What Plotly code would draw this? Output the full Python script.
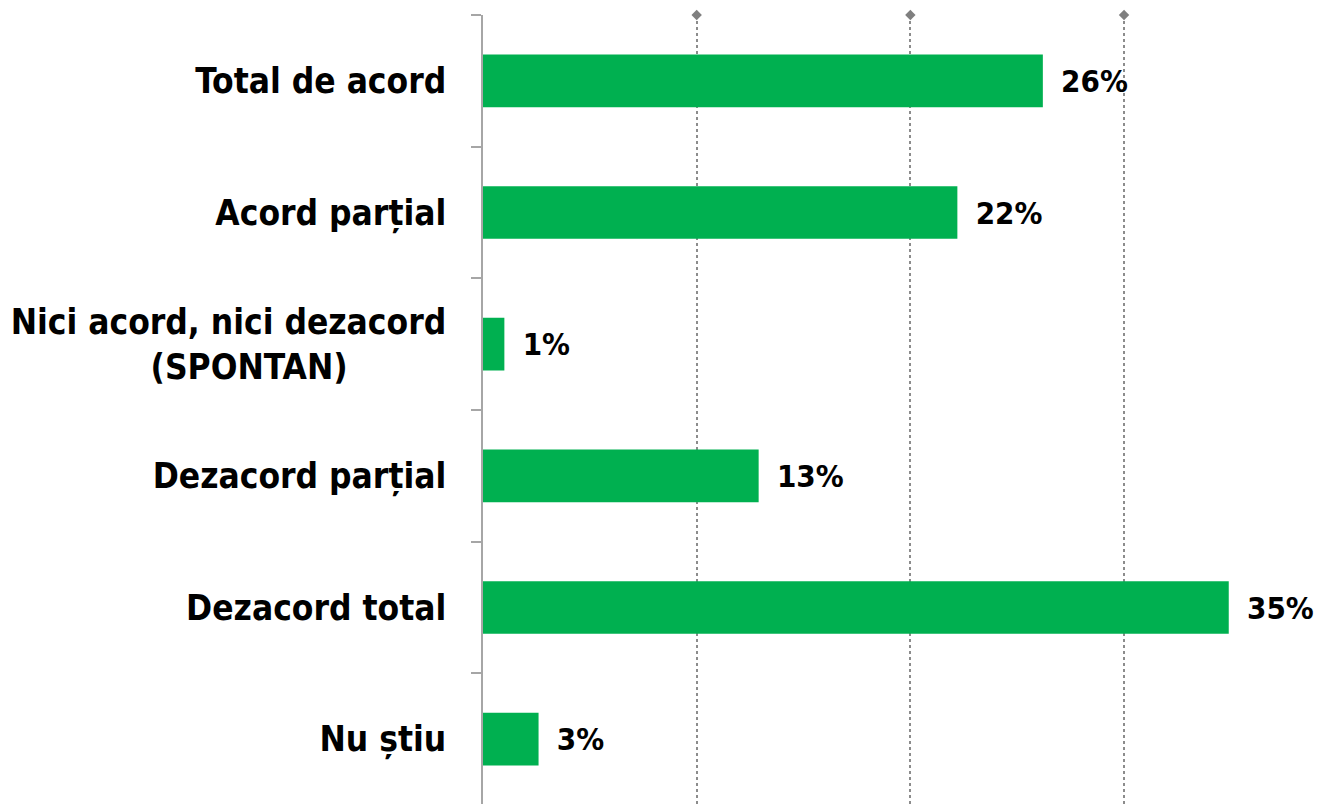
import plotly.graph_objects as go

NB = "\u00a0"
categories = ["Total de acord", "Acord parțial",
              "Nici acord, nici dezacord<br>(SPONTAN)" + NB * 9,
              "Dezacord parțial", "Dezacord total", "Nu știu"]
values = [26.2, 22.2, 1.0, 12.9, 34.9, 2.6]
labels = ["26%", "22%", "1%", "13%", "35%", "3%"]
grid_ticks = [10, 20, 30, 40]

FONT = "DejaVu Sans Condensed, DejaVu Sans, sans-serif"

fig = go.Figure()
fig.add_trace(go.Bar(
    y=categories, x=values, orientation="h",
    marker=dict(color="#00B050", line=dict(width=0)),
    text=labels, texttemplate=NB + "\u2009%{text}",
    textposition="outside", cliponaxis=False,
    textfont=dict(family=FONT, size=31, color="black", weight="bold"),
    width=0.4,
))
fig.add_trace(go.Scatter(
    x=grid_ticks, y=[1] * len(grid_ticks), yaxis="y2", mode="markers",
    marker=dict(symbol="diamond", size=8, color="#7f7f7f"),
    cliponaxis=False, hoverinfo="skip",
))
fig.update_layout(
    width=1334, height=804,
    margin=dict(l=475, r=0, t=7, b=7, pad=0, autoexpand=False),
    plot_bgcolor="white", paper_bgcolor="white",
    showlegend=False,
    xaxis=dict(range=[0, 40.2], showticklabels=False, tickvals=grid_ticks,
               showgrid=True, gridcolor="#8c8c8c", griddash="dot", gridwidth=1.5,
               zeroline=False, showline=False, ticks=""),
    yaxis=dict(autorange="reversed", showline=True, linecolor="#a6a6a6", linewidth=1.5,
               ticks="outside", ticklen=10, tickcolor="#a6a6a6", tickwidth=1.5,
               tickson="boundaries", ticklabelstandoff=28,
               tickfont=dict(family=FONT, size=35, color="black", weight="bold"),
               showgrid=False),
    yaxis2=dict(overlaying="y", range=[0, 1], visible=False, fixedrange=True),
    font=dict(family=FONT),
)
fig.write_html("out.html")
